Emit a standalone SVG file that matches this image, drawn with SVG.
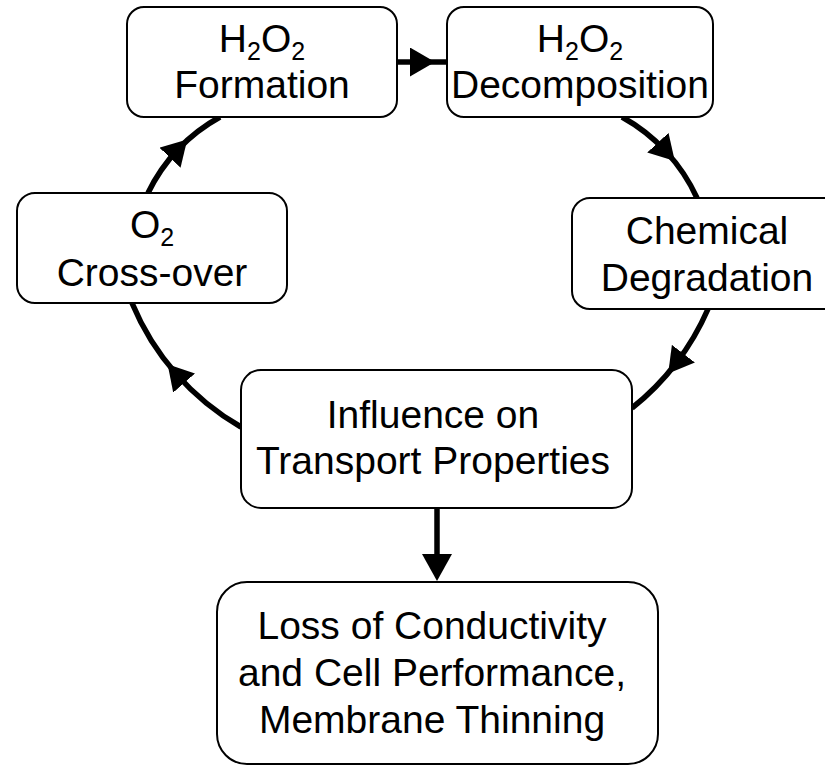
<svg xmlns="http://www.w3.org/2000/svg" width="825" height="766" viewBox="0 0 825 766">
  <defs>
    <style>
      .box { fill: #ffffff; stroke: #000000; stroke-width: 2; }
      .lbl { font-family: "Liberation Sans", Arial, sans-serif; font-size: 39px; fill: #000000; text-anchor: middle; }
      .sub { font-size: 25px; }
      .conn { fill: none; stroke: #000000; stroke-width: 5.5; }
    </style>
    <marker id="midArrow" markerUnits="userSpaceOnUse" markerWidth="25" markerHeight="29" viewBox="0 0 25 29" refX="12" refY="14.5" orient="auto">
      <path d="M0,0 L25,14.5 L0,29 Z" fill="#000000"/>
    </marker>
    <marker id="endArrow" markerUnits="userSpaceOnUse" markerWidth="27" markerHeight="30" viewBox="0 0 27 30" refX="16" refY="15" orient="auto">
      <path d="M0,0 L27,15 L0,30 Z" fill="#000000"/>
    </marker>
  </defs>
  <rect width="825" height="766" fill="#ffffff"/>

  <g id="connectors">
    <path class="conn" d="M397,62 L422,62 L447,62" marker-mid="url(#midArrow)"/>
    <path class="conn" d="M148,193 A175,175 0 0 1 178.3,149 A175,175 0 0 1 220,117" marker-mid="url(#midArrow)"/>
    <path class="conn" d="M622,117 A175,175 0 0 1 666,151.5 A175,175 0 0 1 697,198" marker-mid="url(#midArrow)"/>
    <path class="conn" d="M708,309 A256,256 0 0 1 676.1,363.2 A256,256 0 0 1 632,408" marker-mid="url(#midArrow)"/>
    <path class="conn" d="M241,427 A256,256 0 0 1 176.2,374 A256,256 0 0 1 132,303" marker-mid="url(#midArrow)"/>
    <path class="conn" d="M437,508 L437,570" marker-end="url(#endArrow)"/>
  </g>

  <g id="h2o2-formation">
    <rect class="box" x="127" y="7" width="270" height="110" rx="17"/>
    <text class="lbl" x="262" y="52">H<tspan class="sub" dy="8">2</tspan><tspan dy="-8">O</tspan><tspan class="sub" dy="8">2</tspan></text>
    <text class="lbl" x="262" y="98">Formation</text>
  </g>

  <g id="h2o2-decomposition">
    <rect class="box" x="447" y="7" width="266" height="110" rx="17"/>
    <text class="lbl" x="580" y="52">H<tspan class="sub" dy="8">2</tspan><tspan dy="-8">O</tspan><tspan class="sub" dy="8">2</tspan></text>
    <text class="lbl" x="580" y="98">Decomposition</text>
  </g>

  <g id="chemical-degradation">
    <rect class="box" x="572" y="198" width="272" height="111" rx="18"/>
    <text class="lbl" x="707" y="244">Chemical</text>
    <text class="lbl" x="707" y="291">Degradation</text>
  </g>

  <g id="o2-crossover">
    <rect class="box" x="17" y="193" width="270" height="110" rx="18"/>
    <text class="lbl" x="152" y="238">O<tspan class="sub" dy="8">2</tspan></text>
    <text class="lbl" x="152" y="286">Cross-over</text>
  </g>

  <g id="transport-properties">
    <rect class="box" x="241" y="370" width="391" height="138" rx="20"/>
    <text class="lbl" x="433" y="428">Influence on</text>
    <text class="lbl" x="433" y="474">Transport Properties</text>
  </g>

  <g id="loss-of-conductivity">
    <rect class="box" x="217" y="582" width="441" height="182" rx="30"/>
    <text class="lbl" x="432" y="639">Loss of Conductivity</text>
    <text class="lbl" x="432" y="686">and Cell Performance,</text>
    <text class="lbl" x="432" y="733">Membrane Thinning</text>
  </g>
</svg>
